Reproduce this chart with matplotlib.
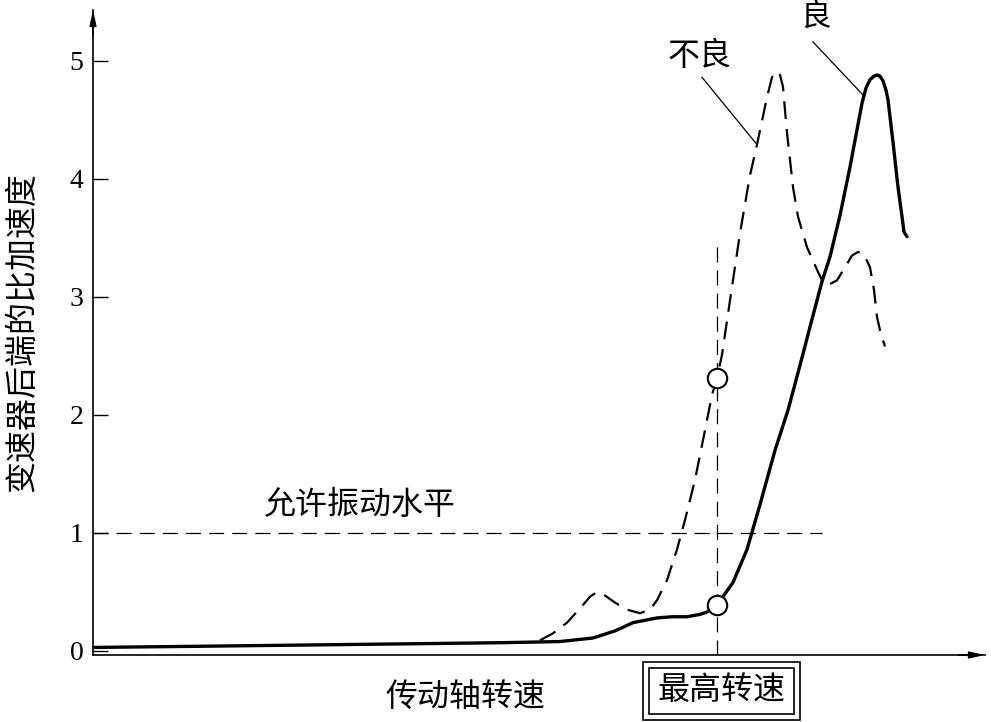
import matplotlib
matplotlib.use("Agg")
import matplotlib.pyplot as plt
from matplotlib.patches import Rectangle

plt.rcParams['font.family'] = ['Noto Sans CJK SC', 'DejaVu Sans']

# ---- data (arbitrary shaft-speed units on x, specific acceleration on y) ----
good_x = [0.00, 1.07, 2.07, 3.07, 4.07, 4.67, 5.00, 5.22, 5.40, 5.64, 5.79, 5.94,
          6.07, 6.14, 6.24, 6.40, 6.54, 6.67, 6.82, 6.95, 7.07, 7.19, 7.29, 7.37,
          7.47, 7.57, 7.65, 7.69, 7.73, 7.77, 7.81, 7.84, 7.87, 7.90, 7.93, 7.95,
          8.00, 8.05, 8.09, 8.11, 8.14]
good_y = [0.03, 0.04, 0.05, 0.06, 0.07, 0.08, 0.11, 0.17, 0.24, 0.28, 0.29, 0.29,
          0.31, 0.33, 0.39, 0.58, 0.86, 1.24, 1.70, 2.04, 2.42, 2.81, 3.13, 3.34,
          3.69, 4.10, 4.46, 4.64, 4.77, 4.84, 4.87, 4.88, 4.87, 4.83, 4.75, 4.67,
          4.31, 3.93, 3.68, 3.55, 3.51]

bad_x = [4.47, 4.60, 4.74, 4.89, 4.97, 5.04, 5.12, 5.22, 5.34, 5.47, 5.57, 5.64,
         5.74, 5.84, 5.92, 6.02, 6.12, 6.19, 6.24, 6.29, 6.37, 6.47, 6.57, 6.64,
         6.74, 6.79, 6.84, 6.87, 6.90, 6.92, 6.94, 7.00, 7.05, 7.14, 7.24, 7.29,
         7.35, 7.44, 7.52, 7.59, 7.65, 7.71, 7.77, 7.81, 7.84, 7.88, 7.92]
bad_y = [0.09, 0.15, 0.24, 0.38, 0.46, 0.50, 0.47, 0.41, 0.35, 0.32, 0.35, 0.43,
         0.60, 0.86, 1.11, 1.45, 1.87, 2.17, 2.31, 2.51, 2.97, 3.54, 4.03, 4.29,
         4.69, 4.86, 4.91, 4.88, 4.78, 4.58, 4.39, 3.93, 3.68, 3.42, 3.23, 3.14,
         3.10, 3.14, 3.25, 3.35, 3.38, 3.36, 3.25, 3.06, 2.83, 2.68, 2.58]

max_speed_x = 6.24
marker_y = [0.39, 2.31]
allow_level = 1.0
yticks = [0, 1, 2, 3, 4, 5]

fig = plt.figure(figsize=(9.91, 7.22), dpi=100)
W, H = 991, 722
def fx(px): return px / W
def fy(py): return 1 - py / H

ax = fig.add_axes([fx(93), fy(655), fx(985) - fx(93), fy(10) - fy(655)])
ax.set_xlim(0, 8.92)
ax.set_ylim(-0.034, 5.43)

for s in ['top', 'right']:
    ax.spines[s].set_visible(False)
for s in ['left', 'bottom']:
    ax.spines[s].set_linewidth(1.2)

ax.set_xticks([])
ax.set_yticks(yticks)
ax.set_yticklabels([str(t) for t in yticks], family='Liberation Serif', fontsize=20)
ax.tick_params(axis='y', direction='in', length=11, width=1.0, pad=7)

# axis arrows
ax.annotate('', xy=(1.0, 0), xycoords='axes fraction', xytext=(0.97, 0),
            arrowprops=dict(arrowstyle='-|>,head_length=0.9,head_width=0.2',
                            color='black', lw=1.2, shrinkA=0, shrinkB=0))
ax.annotate('', xy=(0, 1.0), xycoords='axes fraction', xytext=(0, 0.96),
            arrowprops=dict(arrowstyle='-|>,head_length=0.9,head_width=0.2',
                            color='black', lw=1.2, shrinkA=0, shrinkB=0))

# allowed vibration level
ax.plot([0, 7.29], [allow_level, allow_level], color='black', lw=0.9,
        dashes=(12, 6.5))
# maximum speed line
ax.plot([max_speed_x, max_speed_x], [-0.034, 3.48], color='black', lw=0.9,
        dashes=(12, 6.5))

# curves
ax.plot(bad_x, bad_y, color='black', lw=1.6, dashes=(8, 4.5))
ax.plot(good_x, good_y, color='black', lw=2.4, solid_joinstyle='round',
        solid_capstyle='round')

# markers at max speed
ax.plot([max_speed_x] * len(marker_y), marker_y, 'o', ms=14, mfc='white',
        mec='black', mew=1.5, zorder=5)

# leaders
ax.plot([6.09, 6.64], [4.86, 4.29], color='black', lw=0.9)
ax.plot([7.20, 7.70], [5.16, 4.71], color='black', lw=0.9)

ax.text(6.07, 5.04, '不良', fontsize=23, ha='center', va='center')
ax.text(7.22, 5.50, '良', fontsize=22, ha='center', va='top', clip_on=False)
ax.text(2.67, 1.24, '允许振动水平', fontsize=23, ha='center', va='center')

# labels
fig.text(fx(465), fy(697), '传动轴转速', fontsize=23, ha='center', va='center')
fig.text(fx(22), fy(332), '变速器后端的比加速度', fontsize=23, ha='center',
         va='center', rotation=90)
fig.text(fx(721), fy(690), '最高转速', fontsize=23, ha='center', va='center')
fig.patches.append(Rectangle((fx(643), fy(720)), fx(800) - fx(643), fy(662) - fy(720),
                             transform=fig.transFigure, fill=False, ec='black', lw=1.2))
fig.patches.append(Rectangle((fx(649), fy(714)), fx(794) - fx(649), fy(668) - fy(714),
                             transform=fig.transFigure, fill=False, ec='black', lw=1.2))

fig.savefig('out.png', dpi=100)
